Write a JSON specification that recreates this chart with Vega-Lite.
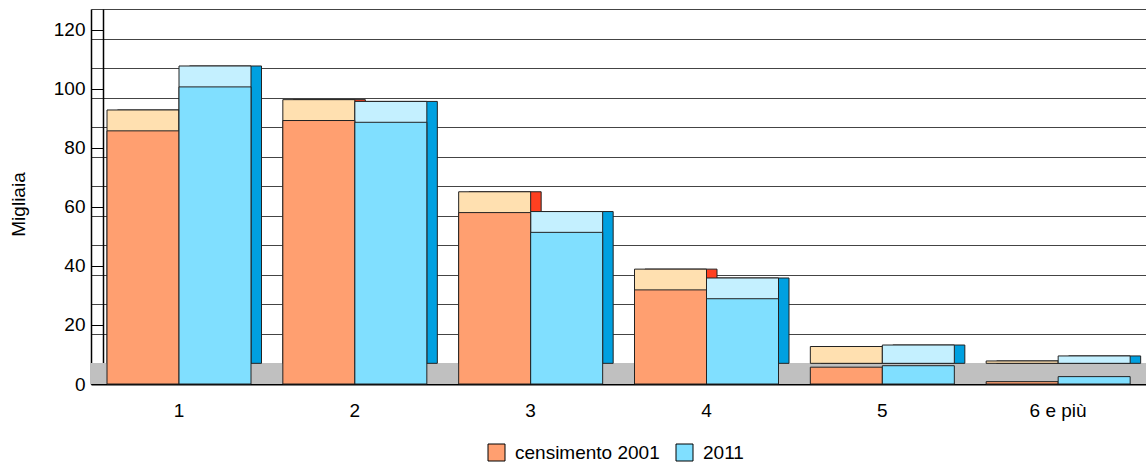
{
  "$schema": "https://vega.github.io/schema/vega-lite/v6.json",
  "width": 1055,
  "height": 375,
  "autosize": {"type": "none"},
  "padding": {"left": 91, "top": 9, "right": 0, "bottom": 79},
  "background": "white",
  "config": {
    "font": "Liberation Sans",
    "view": {"stroke": null},
    "axis": {"labelFont": "Liberation Sans", "titleFont": "Liberation Sans", "labelColor": "black", "titleColor": "black", "labelFontSize": 19, "titleFontSize": 19, "titleFontWeight": "normal"},
    "axisX": {"ticks": false, "domainColor": "black", "domainWidth": 2, "labelPadding": 17, "labelAngle": 0, "title": null, "grid": false},
    "legend": {"labelFont": "Liberation Sans", "labelColor": "black"}
  },
  "data": {
    "values": [
      {"cat": "1", "serie": "censimento 2001", "value": 85.8},
      {"cat": "1", "serie": "2011", "value": 100.7},
      {"cat": "2", "serie": "censimento 2001", "value": 89.3},
      {"cat": "2", "serie": "2011", "value": 88.7},
      {"cat": "3", "serie": "censimento 2001", "value": 58.1},
      {"cat": "3", "serie": "2011", "value": 51.4},
      {"cat": "4", "serie": "censimento 2001", "value": 31.9},
      {"cat": "4", "serie": "2011", "value": 28.9},
      {"cat": "5", "serie": "censimento 2001", "value": 5.7},
      {"cat": "5", "serie": "2011", "value": 6.2},
      {"cat": "6 e più", "serie": "censimento 2001", "value": 0.8},
      {"cat": "6 e più", "serie": "2011", "value": 2.5}
    ]
  },
  "layer": [
    {
      "layer": [
        {
          "mark": {"type": "rect", "color": "#C0C0C0"},
          "encoding": {
            "y": {"datum": -7, "type": "quantitative", "scale": {"domain": [-7, 120], "nice": false, "zero": false},
              "axis": {"orient": "left", "offset": -12, "values": [0, 10, 20, 30, 40, 50, 60, 70, 80, 90, 100, 110, 120], "grid": true, "gridColor": "#444", "gridWidth": 1, "labels": false, "ticks": false, "domain": true, "domainColor": "black", "domainWidth": 1.5, "title": null}},
            "y2": {"datum": 0}
          }
        },
        {
          "mark": {"type": "bar", "stroke": "#222", "strokeWidth": 1},
          "encoding": {
            "x": {"field": "cat", "type": "nominal", "sort": null, "scale": {"type": "band", "paddingInner": 0, "paddingOuter": 0}, "axis": {"title": null}},
            "xOffset": {"field": "serie", "type": "nominal", "sort": null, "scale": {"range": [26.5, 170.5], "paddingInner": 0, "paddingOuter": 0}},
            "y": {"field": "value", "type": "quantitative",
              "axis": {"orient": "left", "offset": -12, "values": [0, 10, 20, 30, 40, 50, 60, 70, 80, 90, 100, 110, 120], "grid": true, "gridColor": "#444", "gridWidth": 1, "labels": false, "ticks": false, "domain": true, "domainColor": "black", "domainWidth": 1.5, "title": null}},
            "fill": {"condition": {"test": "datum.serie === '2011'", "value": "#00A0E0"}, "value": "#FF4020"}
          }
        },
        {
          "mark": {"type": "bar", "stroke": "#222", "strokeWidth": 1},
          "encoding": {
            "x": {"field": "cat", "type": "nominal", "sort": null, "scale": {"type": "band", "paddingInner": 0, "paddingOuter": 0}, "axis": {"title": null}},
            "xOffset": {"field": "serie", "type": "nominal", "sort": null, "scale": {"range": [16, 160], "paddingInner": 0, "paddingOuter": 0}},
            "y": {"field": "value", "type": "quantitative",
              "axis": {"orient": "left", "offset": -12, "values": [0, 10, 20, 30, 40, 50, 60, 70, 80, 90, 100, 110, 120], "grid": true, "gridColor": "#444", "gridWidth": 1, "labels": false, "ticks": false, "domain": true, "domainColor": "black", "domainWidth": 1.5, "title": null}},
            "fill": {"condition": {"test": "datum.serie === '2011'", "value": "#C4F0FF"}, "value": "#FFE0B0"}
          }
        }
      ],
      "resolve": {"scale": {"xOffset": "independent"}}
    },
    {
      "mark": {"type": "bar", "stroke": "#222", "strokeWidth": 1, "opacity": 1},
      "encoding": {
        "x": {"field": "cat", "type": "nominal", "sort": null, "scale": {"type": "band", "paddingInner": 0, "paddingOuter": 0}, "axis": {"title": null}},
        "xOffset": {"field": "serie", "type": "nominal", "sort": null, "scale": {"range": [16, 160], "paddingInner": 0, "paddingOuter": 0}},
        "y": {"field": "value", "type": "quantitative", "scale": {"domain": [0, 127.1], "nice": false},
          "axis": {"orient": "left", "values": [0, 20, 40, 60, 80, 100, 120], "grid": false, "title": "Migliaia", "domainColor": "black", "domainWidth": 1.5, "tickColor": "black", "tickSize": -12, "labelPadding": 18, "titleAngle": -90, "titleX": -73, "titleY": 195, "titleAlign": "center", "titleBaseline": "middle"}},
        "color": {"field": "serie", "type": "nominal", "sort": null,
          "scale": {"domain": ["censimento 2001", "2011"], "range": ["#FF9F70", "#80DFFF"]},
          "legend": {"orient": "none", "legendX": 396, "legendY": 434, "direction": "horizontal", "title": null, "symbolType": "square", "symbolSize": 289, "symbolStrokeColor": "black", "symbolStrokeWidth": 1, "symbolOpacity": 1, "labelFontSize": 19, "columnPadding": 14, "labelOffset": 9, "padding": 0}}
      }
    }
  ],
  "resolve": {"scale": {"y": "independent", "xOffset": "independent"}, "axis": {"y": "independent"}}
}
